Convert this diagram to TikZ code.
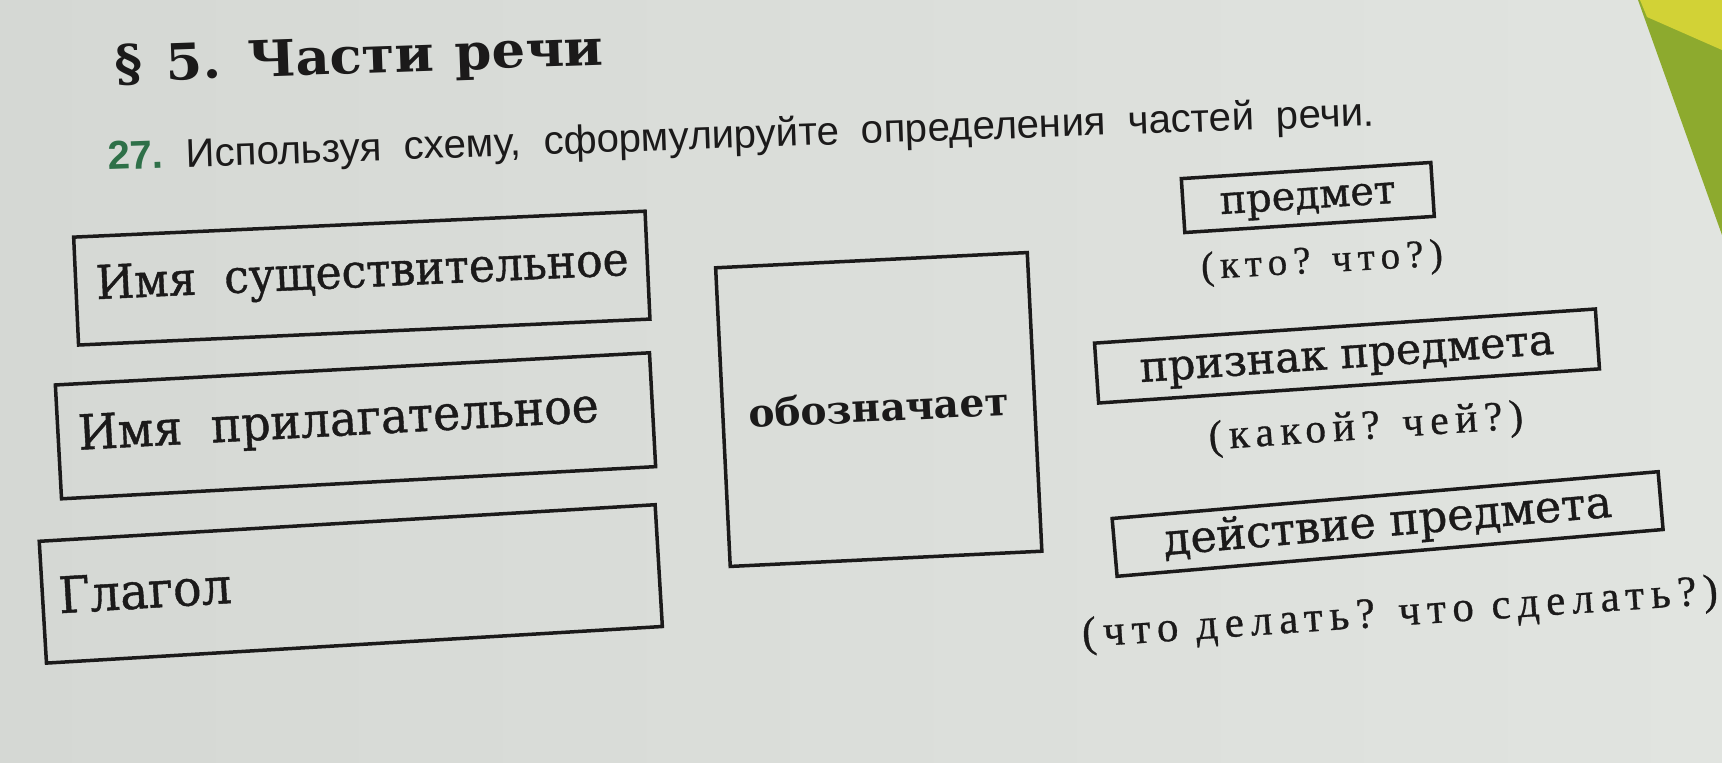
\documentclass[tikz,border=0pt]{standalone}
\usepackage{fontspec}
\setmainfont{DejaVu Serif}
\newfontfamily\bookfont[FakeBold=0.9]{DejaVu Serif}
\newfontfamily\qfont[LetterSpace=16,FakeBold=0.7]{Liberation Serif}
\newfontfamily\instrfont{Liberation Sans}
\usepackage{graphicx}
\definecolor{pageleft}{HTML}{D5D8D4}
\definecolor{pageright}{HTML}{E1E4E0}
\definecolor{ink}{HTML}{1B1A1A}
\definecolor{numgreen}{HTML}{2E7048}
\definecolor{leaf}{HTML}{8DAA2E}
\definecolor{sun}{HTML}{D2D236}
\newcommand{\fitw}[2]{\resizebox{#1pt}{!}{#2}}
\newcommand{\fitws}[3]{\scalebox{1}[#3]{\resizebox{#1pt}{!}{#2}}}
\begin{document}
\begin{tikzpicture}[x=1pt,y=-1pt,
  frame/.style={draw=ink, line width=3.5pt, inner sep=0pt},
  word/.style={text=ink, inner sep=0pt}]
\shade[left color=pageleft, right color=pageright] (0,0) rectangle (1722,763);
\useasboundingbox (0,0) rectangle (1722,763);
\fill[leaf] (1638,0) -- (1722,0) -- (1722,235) -- cycle;
\fill[sun] (1640,0) -- (1722,0) -- (1722,50) -- (1647,17) -- cycle;

% title and task
\node[word, anchor=base west, rotate=2.0] (title) at (115,82)
  {\fitws{489}{\bfseries §\hspace{0.45em}5.\hspace{0.5em}Части\hspace{0.4em}речи}{0.95}};
\node[word, anchor=base west, rotate=2.0] (task) at (108,170)
  {\fitw{1267}{\instrfont{\bfseries\color{numgreen}27.}\ \ Используя\ \ схему,\ \ сформулируйте\ \ определения\ \ частей\ \ речи.}};

% left column
\begin{scope}[shift={(361.8,278.1)}, rotate=2.6, transform shape]
  \node[frame, minimum width=572pt, minimum height=108pt] (nounbox) at (0,0) {};
  \node[word, anchor=base west] (noun) at (-266,9) {\fitws{533}{\bookfont Имя\ \ существительное}{1.06}};
\end{scope}
\begin{scope}[shift={(355.5,425.8)}, rotate=3.1, transform shape]
  \node[frame, minimum width=595pt, minimum height=114pt] (adjbox) at (0,0) {};
  \node[word, anchor=base west] (adj) at (-277.5,9) {\fitws{521}{\bookfont Имя\ \ прилагательное}{1.06}};
\end{scope}
\begin{scope}[shift={(350.8,583.9)}, rotate=3.4, transform shape]
  \node[frame, minimum width=617pt, minimum height=122pt] (verbbox) at (0,0) {};
  \node[word, anchor=base west] (verb) at (-292.5,12) {\fitws{173}{\bookfont Глагол}{1.06}};
\end{scope}

% centre
\begin{scope}[shift={(878.75,409.5)}, rotate=2.8, transform shape]
  \node[frame, minimum width=312pt, minimum height=299pt] (meanbox) at (0,0) {};
  \node[word, anchor=base] (mean) at (0,12) {\fitw{260}{\bfseries обозначает}};
\end{scope}

% right column
\begin{scope}[shift={(1307.8,197.5)}, rotate=3.7, transform shape]
  \node[frame, minimum width=250pt, minimum height=54pt] (objbox) at (0,0) {};
  \node[word, anchor=base] (obj) at (0,11) {\fitw{176}{\bookfont предмет}};
\end{scope}
\node[word, rotate=3.2] (objq) at (1322,263) {\fitw{242}{\qfont(кто? что?)}};

\begin{scope}[shift={(1347,356)}, rotate=3.9, transform shape]
  \node[frame, minimum width=502pt, minimum height=60pt] (attrbox) at (0,0) {};
  \node[word, anchor=base] (attr) at (0,12) {\fitw{415}{\bookfont признак предмета}};
\end{scope}
\node[word, rotate=3.9] (attrq) at (1366,429) {\fitw{315}{\qfont(какой? чей?)}};

\begin{scope}[shift={(1387.6,524)}, rotate=4.9, transform shape]
  \node[frame, minimum width=548pt, minimum height=58pt] (actbox) at (0,0) {};
  \node[word, anchor=base] (act) at (0,12) {\fitw{450}{\bookfont действие предмета}};
\end{scope}
\node[word, rotate=3.9] (actq) at (1400,615) {\fitw{637}{\qfont(что делать? что сделать?)}};
\end{tikzpicture}
\end{document}
